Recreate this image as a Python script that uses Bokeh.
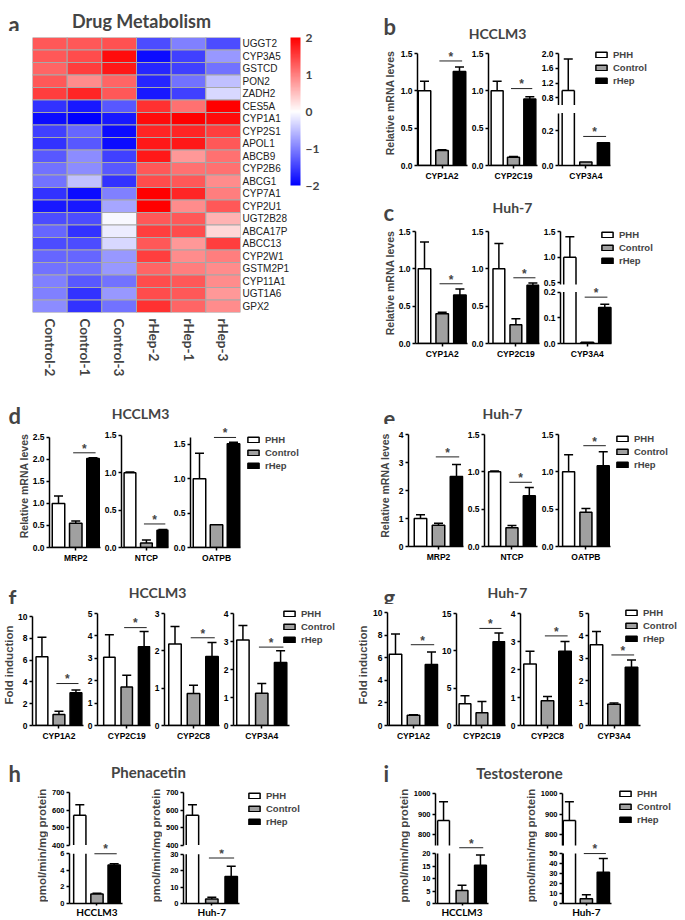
import math
from bokeh.plotting import figure
from bokeh.models import (Range1d, FactorRange, LinearColorMapper, ColorBar, FixedTicker,
                          Label, Legend, LegendItem, NumeralTickFormatter, ColumnDataSource)
from bokeh.layouts import row, column
from bokeh.embed import file_html
from bokeh.resources import INLINE

# ---------------------------------------------------------------- data
groups = ["PHH", "Control", "rHep"]

hm_samples = ["Control-2", "Control-1", "Control-3", "rHep-2", "rHep-1", "rHep-3"]
hm_genes = ["UGGT2", "CYP3A5", "GSTCD", "PON2", "ZADH2", "CES5A", "CYP1A1", "CYP2S1",
            "APOL1", "ABCB9", "CYP2B6", "ABCG1", "CYP7A1", "CYP2U1", "UGT2B28", "ABCA17P",
            "ABCC13", "CYP2W1", "GSTM2P1", "CYP11A1", "UGT1A6", "GPX2"]
hm_values = [
    [1.3, 1.3, 1.35, -1.4, -1.0, -1.4],
    [1.3, 1.4, 1.9, -1.9, -1.5, -0.8],
    [1.2, 1.5, 1.8, -1.7, -1.5, -1.1],
    [1.3, 0.9, 1.2, -1.7, -1.1, -0.5],
    [1.5, 1.7, 1.3, -1.8, -1.5, -0.3],
    [-1.6, -1.8, -1.3, 1.6, 1.1, 2.0],
    [-1.9, -2.0, -1.8, 1.9, 2.0, 1.9],
    [-1.5, -1.2, -1.9, 1.7, 1.7, 1.5],
    [-1.6, -1.3, -1.9, 1.8, 1.8, 1.3],
    [-1.3, -0.9, -1.5, 1.8, 0.8, 1.1],
    [-1.1, -0.9, -1.3, 1.3, 1.1, 1.1],
    [-1.1, -0.5, -1.6, 1.4, 1.3, 0.9],
    [-1.6, -1.9, -1.0, 2.0, 1.7, 1.0],
    [-1.8, -1.8, -0.7, 2.0, 0.9, 1.3],
    [-1.4, -1.4, -0.05, 1.3, 1.3, 0.6],
    [-1.2, -1.6, -0.15, 1.5, 1.4, 0.3],
    [-1.4, -1.4, -0.3, 1.3, 0.8, 1.5],
    [-1.2, -1.2, -0.8, 1.5, 0.9, 1.0],
    [-1.1, -1.1, -0.8, 1.2, 1.0, 0.9],
    [-1.0, -1.3, -1.1, 1.4, 1.3, 0.9],
    [-1.0, -1.6, -0.8, 1.4, 1.3, 0.8],
    [-0.9, -1.6, -1.1, 1.6, 1.2, 0.9],
]
hm_ticks = [-2, -1, 0, 1, 2]

# panel b : HCCLM3 (CYP mRNA)
b_names = ["CYP1A2", "CYP2C19", "CYP3A4"]
b_mean = [[1.00, 0.20, 1.26], [1.00, 0.11, 0.89], [1.00, 0.02, 0.13]]
b_err = [[0.13, 0.01, 0.06], [0.13, 0.01, 0.03], [0.85, 0.0, 0.0]]
b_sig = [1.40, 1.03, 0.166]
b_ymax = [1.5, 1.5, [2.0, 0.3]]
b_ticks = [[0, 0.5, 1.0, 1.5], [0, 0.5, 1.0, 1.5], [[0.8, 1.2, 1.6, 2.0], [0.0, 0.2]]]
b_fmt = ["0.0", "0.0", "0.0"]

# panel c : Huh-7 (CYP mRNA)
c_names = ["CYP1A2", "CYP2C19", "CYP3A4"]
c_mean = [[1.00, 0.40, 0.65], [1.00, 0.25, 0.78], [1.00, 0.005, 0.14]]
c_err = [[0.36, 0.02, 0.08], [0.34, 0.08, 0.03], [0.40, 0.0, 0.012]]
c_sig = [0.80, 0.88, 0.18]
c_ymax = [1.5, 1.5, [1.5, 0.2]]
c_ticks = [[0, 0.5, 1.0, 1.5], [0, 0.5, 1.0, 1.5], [[0.5, 1.0, 1.5], [0.0, 0.1, 0.2]]]
c_fmt = ["0.0", "0.0", "0.0"]

# panel d : HCCLM3 (transporters)
d_names = ["MRP2", "NTCP", "OATPB"]
d_mean = [[1.00, 0.55, 2.02], [1.00, 0.06, 0.23], [1.00, 0.33, 1.51]]
d_err = [[0.17, 0.05, 0.02], [0.01, 0.04, 0.01], [0.37, 0.0, 0.02]]
d_sig = [2.15, 0.315, 1.60]
d_ymax = [2.5, 1.5, 1.6]
d_ticks = [[0, 0.5, 1.0, 1.5, 2.0, 2.5], [0, 0.5, 1.0, 1.5], [0, 0.5, 1.0, 1.5]]
d_fmt = ["0.0", "0.0", "0.0"]

# panel e : Huh-7 (transporters)
e_names = ["MRP2", "NTCP", "OATPB"]
e_mean = [[1.00, 0.76, 2.50], [1.00, 0.25, 0.68], [1.00, 0.46, 1.08]]
e_err = [[0.13, 0.07, 0.43], [0.01, 0.03, 0.11], [0.23, 0.05, 0.19]]
e_sig = [3.20, 0.86, 1.35]
e_ymax = [4, 1.5, 1.5]
e_ticks = [[0, 1, 2, 3, 4], [0, 0.5, 1.0, 1.5], [0, 0.5, 1.0, 1.5]]
e_fmt = ["0", "0.0", "0.0"]

# panel f : HCCLM3 fold induction
f_names = ["CYP1A2", "CYP2C19", "CYP2C8", "CYP3A4"]
f_mean = [[6.3, 1.0, 3.0], [3.05, 1.72, 3.52], [2.18, 0.86, 1.85], [3.05, 1.15, 2.25]]
f_err = [[1.8, 0.3, 0.25], [1.0, 0.52, 0.68], [0.47, 0.22, 0.37], [0.52, 0.35, 0.42]]
f_sig = [3.85, 4.37, 2.35, 2.80]
f_ymax = [10, 5, 3, 4]
f_ticks = [[0, 2, 4, 6, 8, 10], [0, 1, 2, 3, 4, 5], [0, 1, 2, 3], [0, 1, 2, 3, 4]]
f_fmt = ["0", "0", "0", "0"]

# panel g : Huh-7 fold induction
g_names = ["CYP1A2", "CYP2C19", "CYP2C8", "CYP3A4"]
g_mean = [[6.3, 0.9, 5.4], [2.9, 1.7, 11.2], [2.2, 0.88, 2.65], [3.6, 0.95, 2.6]]
g_err = [[1.8, 0.05, 1.1], [1.1, 1.5, 1.2], [0.45, 0.16, 0.35], [0.6, 0.05, 0.32]]
g_sig = [7.15, 13.0, 3.20, 3.15]
g_ymax = [10, 15, 4, 5]
g_ticks = [[0, 2, 4, 6, 8, 10], [0, 5, 10, 15], [0, 1, 2, 3, 4], [0, 1, 2, 3, 4, 5]]
g_fmt = ["0", "0", "0", "0"]

# panel h : Phenacetin
h_names = ["HCCLM3", "Huh-7"]
h_mean = [[570, 1.15, 4.65], [570, 2.8, 16.5]]
h_err = [[60, 0.1, 0.15], [60, 1.0, 6.2]]
h_sig = [6.0, 27.7]
h_ymax = [[700, 6], [700, 30]]
h_ticks = [[[400, 500, 600, 700], [0, 2, 4, 6]], [[400, 500, 600, 700], [0, 10, 20, 30]]]
h_fmt = ["0", "0"]

# panel i : Testosterone
i_names = ["HCCLM3", "Huh-7"]
i_mean = [[868, 5.2, 15.3], [868, 4.8, 31.4]]
i_err = [[92, 2.1, 4.1], [92, 3.9, 13.6]]
i_sig = [22.3, 50.0]
i_ymax = [[1000, 20], [1000, 50]]
i_ticks = [[[800, 900, 1000], [0, 5, 10, 15, 20]], [[800, 900, 1000], [0, 10, 20, 30, 40, 50]]]
i_fmt = ["0", "0"]

# ---------------------------------------------------------------- style
COLORS = ["#ffffff", "#a0a0a0", "#000000"]
AX_FONT = "Liberation Sans"
T_FONT = "Lato"
LEG_ITEM_H = 12
LEG_SPACING = 1
LEG_H = 3 * LEG_ITEM_H + 2 * LEG_SPACING
STAR_DY = 4.2      # px from the bracket line up to the anchor (middle) of the star text
STAR_GLYPH = 6.5   # px from the bracket line up to the visible centre of the star


def val_fn(cal):
    pa, va, pb, vb = cal
    s = (pa - pb) / (vb - va)
    return lambda px: va + (pa - px) / s


def px_fn(cal):
    pa, va, pb, vb = cal
    s = (pa - pb) / (vb - va)
    return lambda v: pa - (v - va) * s


def style_axis(ax, size="8.5px"):
    ax.axis_line_width = 1.5
    ax.axis_line_color = "black"
    ax.major_tick_line_width = 1.5
    ax.major_tick_line_color = "black"
    ax.major_tick_in = 0
    ax.major_tick_out = 3
    ax.minor_tick_line_color = None
    ax.major_label_text_font = AX_FONT
    ax.major_label_text_font_style = "bold"
    ax.major_label_text_font_size = size
    ax.major_label_text_color = "black"
    ax.major_label_standoff = 2


def header(px0, px1, py0, py1, letter, lpos, title, tpos, tsize):
    p = figure(width=px1 - px0, height=py1 - py0, x_range=Range1d(px0, px1),
               y_range=Range1d(py1, py0), x_axis_type=None, y_axis_type=None,
               min_border=0, toolbar_location=None, output_backend="svg")
    p.outline_line_color = None
    p.grid.visible = False
    p.add_layout(Label(x=lpos[0], y=lpos[1], text=letter, text_font=T_FONT,
                       text_font_style="bold", text_font_size="22px",
                       text_align="left", text_baseline="alphabetic"))
    p.add_layout(Label(x=tpos[0], y=tpos[1], text=title, text_font=T_FONT,
                       text_font_style="bold", text_font_size=tsize,
                       text_align="center", text_baseline="middle"))
    return p


def ylab_fig(x0, x1, frame_top, baseline, py1, text, size):
    w = x1 - x0
    p = figure(width=w, height=py1 - frame_top, x_range=Range1d(0, 1), y_range=Range1d(0, 1),
               x_axis_location=None, min_border_left=w - 1, min_border_right=0,
               min_border_top=0, min_border_bottom=py1 - baseline,
               toolbar_location=None, output_backend="svg")
    p.outline_line_color = None
    p.grid.visible = False
    ax = p.yaxis[0]
    ax.ticker = FixedTicker(ticks=[])
    ax.axis_line_color = None
    ax.major_tick_out = 0
    ax.major_tick_in = 0
    ax.minor_tick_line_color = None
    ax.major_label_standoff = 0
    ax.axis_label = text
    ax.axis_label_standoff = 0
    ax.axis_label_text_font = AX_FONT
    ax.axis_label_text_font_style = "bold"
    ax.axis_label_text_font_size = size
    return p


def star(p, y):
    p.add_layout(Label(x=1.5, y=y, text="*", text_font=AX_FONT, text_font_style="bold",
                       text_font_size="12px", text_align="center", text_baseline="middle"))


def make_sub(means, errs, sig, name, ymax, ticks, fmt, g, x_start, x_end, frame_top,
             baseline, py1, is_last, ylabel=None, ylab_std=0, ylab_size="10.5px",
             legend=None, xfont=(AX_FONT, "8.5px"), tick_size="8.5px", xlab_low=False):
    fl, fr, c0, sp = g["fl"], g["fr"], g["c0"], g["sp"]
    x0 = -(c0 - fl) / sp
    x1 = x0 + (fr - fl) / sp
    frame_r = x_end if is_last else fr
    x1f = x0 + (frame_r - fl) / sp
    bw = 12.5 / sp
    segs = g["segs"]
    n = len(segs)
    if n == 1:
        ymax = [ymax]
        ticks = [ticks]
    sig_px = px_fn(segs[-1]["cal"])(sig)
    star_px = sig_px - STAR_DY
    glyph_px = sig_px - STAR_GLYPH
    figs = []
    for k, sg in enumerate(segs):
        vf = val_fn(sg["cal"])
        last = (k == n - 1)
        bb = (py1 - baseline) if last else 0
        top_px, bot_px = sg["top"], sg["bot"]
        ylo, yhi = vf(bot_px), vf(top_px)
        if abs(ylo) < 1e-9:
            ylo = 0.0
        L = vf(sg["lo_px"]) if "lo_px" in sg else 0.0
        H = ymax[k] if (n > 1 and last) else None
        p = figure(width=x_end - x_start, height=(bot_px - top_px) + bb,
                   x_range=Range1d(x0, x1f), y_range=Range1d(ylo, yhi),
                   min_border_left=fl - x_start, min_border_right=x_end - frame_r,
                   min_border_top=0, min_border_bottom=bb,
                   x_axis_location="below" if last else None,
                   toolbar_location=None, output_backend="svg")
        p.grid.visible = False
        p.outline_line_color = None
        for i in range(len(groups)):
            m = means[i]
            t = min(m, H) if H is not None else m
            if t > L:
                open_top = H is not None and m > H
                open_bot = L > 0
                if not open_top and not open_bot:
                    p.vbar(x=[i], top=[t], bottom=L, width=bw, fill_color=COLORS[i],
                           line_color="black", line_width=1.5)
                else:
                    p.vbar(x=[i], top=[t], bottom=L, width=bw, fill_color=COLORS[i],
                           line_color=None)
                    sx0 = [i - bw / 2, i + bw / 2]
                    sy0 = [L, L]
                    sx1 = [i - bw / 2, i + bw / 2]
                    sy1 = [t, t]
                    if not open_top:
                        sx0.append(i - bw / 2)
                        sy0.append(t)
                        sx1.append(i + bw / 2)
                        sy1.append(t)
                    p.segment(x0=sx0, y0=sy0, x1=sx1, y1=sy1, line_color="black", line_width=1.5)
            cap = m + errs[i]
            if errs[i] > 0 and cap > L and m < yhi and (H is None or m <= H):
                p.segment(x0=[i], y0=[max(m, L)], x1=[i], y1=[cap],
                          line_color="black", line_width=1.5)
                if cap < yhi:
                    p.scatter(x=[i], y=[cap], marker="dash", size=9,
                              line_color="black", line_width=1.5)
        if top_px <= sig_px <= bot_px:
            yv = vf(sig_px)
            p.segment(x0=[0.85], y0=[yv], x1=[2.15], y1=[yv],
                      line_color="#222222", line_width=1)
        if top_px <= glyph_px < bot_px:
            anchor = min(star_px, bot_px - 0.5)
            star(p, vf(anchor))
        yax = p.yaxis[0]
        style_axis(yax, tick_size)
        yax.ticker = FixedTicker(ticks=ticks[k])
        yax.formatter = NumeralTickFormatter(format=fmt)
        yax.bounds = (L, H if H is not None else ymax[k])
        if k == 0 and ylabel:
            yax.axis_label = ylabel
            yax.axis_label_standoff = ylab_std
            yax.axis_label_text_font = AX_FONT
            yax.axis_label_text_font_style = "bold"
            yax.axis_label_text_font_size = ylab_size
        if last:
            xax = p.xaxis[0]
            style_axis(xax)
            xax.ticker = FixedTicker(ticks=[1])
            xax.bounds = (x0, x1)
            xax.major_label_overrides = {1: name}
            xax.major_label_text_font = xfont[0]
            xax.major_label_text_font_size = xfont[1]
            if xlab_low:
                xax.major_tick_out = 2
                xax.major_label_standoff = 0
        if legend is not None and k == 0:
            proxies = [p.vbar(x=[i], top=[means[i]], bottom=0, width=bw, fill_color=COLORS[i],
                              line_color="black", line_width=1.5, visible=False)
                       for i in range(len(groups))]
            left, c1 = legend
            top = c1 - LEG_ITEM_H / 2
            leg = Legend(items=[LegendItem(label=groups[i], renderers=[proxies[i]])
                                for i in range(len(groups))],
                         location=(left - fl, bot_px - (top + LEG_H)))
            leg.padding = 0
            leg.margin = 0
            leg.spacing = LEG_SPACING
            leg.glyph_width = 14
            leg.glyph_height = 7
            leg.label_height = LEG_ITEM_H
            leg.label_standoff = 5
            leg.label_text_font = AX_FONT
            leg.label_text_font_style = "bold"
            leg.label_text_font_size = "9.5px"
            leg.border_line_color = None
            leg.background_fill_alpha = 0
            leg.inactive_fill_alpha = 0
            p.add_layout(leg)
        figs.append(p)
    return figs


def bar_panel(box, frame_top, baseline, hdr, geoms, means, errs, sigs, names, ymaxs,
              ticks, fmts, legend_pos, ylabel, ylab_std=0, ylab_size="10.5px",
              xfont=(AX_FONT, "8.5px"), tick_size="8.5px", xlab_low=False):
    px0, px1, py0, py1 = box
    hfig = header(px0, px1, py0, frame_top, *hdr)
    items = []
    x = px0
    n = len(geoms)
    for j, g in enumerate(geoms):
        own_ylab = None
        if "ylab_end" in g:
            items.append(ylab_fig(x, g["ylab_end"], frame_top, baseline, py1, ylabel, ylab_size))
            x = g["ylab_end"]
        elif j == 0:
            own_ylab = ylabel
        is_last = (j == n - 1)
        end = px1 if is_last else g["fr"] + 1
        figs = make_sub(means[j], errs[j], sigs[j], names[j], ymaxs[j], ticks[j], fmts[j],
                        g, x, end, frame_top, baseline, py1, is_last, ylabel=own_ylab,
                        ylab_std=ylab_std, ylab_size=ylab_size,
                        legend=legend_pos if is_last else None, xfont=xfont,
                        tick_size=tick_size, xlab_low=xlab_low)
        items.append(figs[0] if len(figs) == 1 else column(*figs, spacing=0))
        x = end
    return column(row(hfig, spacing=0), row(*items, spacing=0), spacing=0)


def reg(fl, fr, c0, sp, baseline, ptop, vtop, frame_top):
    return dict(fl=fl, fr=fr, c0=c0, sp=sp,
                segs=[dict(top=frame_top, bot=baseline, cal=(baseline, 0, ptop, vtop))])


# ---------------------------------------------------------------- panel a
def heat_panel():
    hdr = header(0, 370, 0, 31, "a", (8, 24), "Drug Metabolism", (141, 20), "18px")
    pal = []
    for k in range(256):
        t = k / 255
        if t < 0.5:
            u = t / 0.5
            rgb = (int(255 * u), int(255 * u), 255)
        else:
            u = (t - 0.5) / 0.5
            rgb = (255, int(255 * (1 - u)), int(255 * (1 - u)))
        pal.append("#%02x%02x%02x" % rgb)
    mapper = LinearColorMapper(palette=pal, low=-2, high=2)
    xs, ys, vs = [], [], []
    for gi, gname in enumerate(hm_genes):
        for si, s in enumerate(hm_samples):
            xs.append(s)
            ys.append(gname)
            vs.append(hm_values[gi][si])
    src = ColumnDataSource(dict(sample=xs, gene=ys, v=vs))
    p = figure(width=370, height=354, x_range=FactorRange(*hm_samples),
               y_range=FactorRange(*reversed(hm_genes)), y_axis_location="right",
               min_border_left=32, min_border_right=130, min_border_top=6,
               min_border_bottom=73, toolbar_location=None, output_backend="svg")
    p.grid.visible = False
    p.outline_line_color = None
    p.rect(x="sample", y="gene", width=1, height=1, source=src,
           fill_color={"field": "v", "transform": mapper}, line_color="#a8a8a8", line_width=1)
    ya = p.yaxis[0]
    ya.axis_line_color = None
    ya.major_tick_line_color = None
    ya.minor_tick_line_color = None
    ya.major_tick_out = 0
    ya.major_label_standoff = 2
    ya.major_label_text_font = AX_FONT
    ya.major_label_text_font_size = "10px"
    ya.major_label_text_color = "#222222"
    xa = p.xaxis[0]
    xa.axis_line_color = None
    xa.major_tick_line_color = None
    xa.minor_tick_line_color = None
    xa.major_tick_out = 0
    xa.major_label_standoff = 6
    xa.major_label_orientation = -math.pi / 2
    xa.major_label_text_font = T_FONT
    xa.major_label_text_font_style = "bold"
    xa.major_label_text_font_size = "13.5px"
    cb = ColorBar(color_mapper=mapper, ticker=FixedTicker(ticks=hm_ticks), width=10,
                  height=148, location=(258, 127), padding=0, margin=0,
                  major_tick_line_color=None, minor_tick_line_color=None,
                  bar_line_color=None, border_line_color=None,
                  background_fill_alpha=0, label_standoff=5,
                  major_label_text_font=T_FONT, major_label_text_font_style="bold",
                  major_label_text_font_size="12px")
    p.add_layout(cb)
    return column(row(hdr, spacing=0), p, spacing=0)


# ---------------------------------------------------------------- geometry (page px)
b_geo = [
    reg(417, 467, 424, 17.5, 165, 53, 1.5, 40),
    reg(486, 537, 495, 17, 165, 53, 1.5, 40),
    dict(fl=555, fr=608, c0=565, sp=18, segs=[
        dict(top=40, bot=105, lo_px=105, cal=(97.3, 0.8, 53, 2.0)),
        dict(top=105, bot=165, cal=(165, 0, 130, 0.2))]),
]
c_geo = [
    reg(415, 467, 424, 17.7, 343, 231, 1.5, 222),
    reg(485, 539, 496, 18, 343, 231, 1.5, 222),
    dict(fl=558, fr=610, c0=567.5, sp=17.75, segs=[
        dict(top=222, bot=287, lo_px=284, cal=(282.3, 0.5, 231, 1.5)),
        dict(top=287, bot=343, cal=(343, 0, 291.5, 0.2))]),
]
d_geo = [
    reg(49, 100, 58, 17.25, 548, 437, 2.5, 424),
    reg(118, 168, 127, 17.5, 548, 435, 1.5, 424),
    reg(190, 240, 199, 17, 548, 444, 1.5, 424),
]
e_geo = [
    reg(408, 463, 420, 18, 546, 434, 4, 424),
    reg(482, 537, 492.5, 18, 546, 434, 1.5, 424),
    reg(553, 607, 563.5, 18, 546, 434, 1.5, 424),
]
f_geo = [
    reg(29, 83, 39, 18, 725, 616, 10, 604),
    reg(92, 150, 105, 19, 725, 613, 5, 604),
    reg(164, 219, 174.5, 18.5, 725, 613, 3, 604),
    reg(232, 288, 241.5, 19, 725, 613, 4, 604),
]
g_geo = [
    reg(387, 438, 395, 18, 725, 612, 10, 604),
    reg(453, 505, 462, 18, 725, 613, 15, 604),
    reg(520, 572, 529.5, 17.5, 725, 613, 4, 604),
    reg(588, 640, 596, 17.5, 725, 613, 5, 604),
]
h_geo = [
    dict(ylab_end=48, fl=68, fr=122, c0=78.5, sp=17.5, segs=[
        dict(top=784, bot=849, lo_px=844.6, cal=(844.6, 400, 792, 700)),
        dict(top=849, bot=906, cal=(906, 0, 853.5, 6))]),
    dict(ylab_end=162, fl=182, fr=238, c0=191, sp=19.5, segs=[
        dict(top=784, bot=849, lo_px=844.6, cal=(844.6, 400, 792, 700)),
        dict(top=849, bot=906, cal=(906, 0, 854, 30))]),
]
i_geo = [
    dict(ylab_end=410, fl=432, fr=488, c0=440.5, sp=19.5, segs=[
        dict(top=784, bot=849, lo_px=845, cal=(834, 800, 793, 1000)),
        dict(top=849, bot=906, cal=(906, 0, 853.3, 20))]),
    dict(ylab_end=537, fl=560, fr=610, c0=567, sp=17.25, segs=[
        dict(top=784, bot=849, lo_px=845, cal=(834, 800, 793, 1000)),
        dict(top=849, bot=906, cal=(906, 0, 853.3, 50))]),
]

MRNA = "Relative mRNA leves"
FOLD = "Fold induction"
PMOL = "pmol/min/mg protein"

pa = heat_panel()
pb = bar_panel((370, 685, 0, 188), 40, 165, ("b", (383, 26), "HCCLM3", (497, 33), "14px"),
               b_geo, b_mean, b_err, b_sig, b_names, b_ymax, b_ticks, b_fmt,
               (591, 54), MRNA, ylab_std=2)
pc = bar_panel((370, 685, 188, 385), 222, 343, ("c", (383, 212), "Huh-7", (512, 207), "14px"),
               c_geo, c_mean, c_err, c_sig, c_names, c_ymax, c_ticks, c_fmt,
               (598, 234), MRNA, ylab_std=0)
pd_ = bar_panel((0, 370, 385, 565), 424, 548, ("d", (8, 415), "HCCLM3", (140, 413), "14px"),
                d_geo, d_mean, d_err, d_sig, d_names, d_ymax, d_ticks, d_fmt,
                (246, 440), MRNA, ylab_std=0)
pe = bar_panel((370, 685, 385, 565), 424, 546, ("e", (383, 418), "Huh-7", (502, 413), "14px"),
               e_geo, e_mean, e_err, e_sig, e_names, e_ymax, e_ticks, e_fmt,
               (610, 438), MRNA, ylab_std=5)
pf = bar_panel((0, 350, 565, 745), 604, 725, ("f", (8, 598), "HCCLM3", (157, 592), "14px"),
               f_geo, f_mean, f_err, f_sig, f_names, f_ymax, f_ticks, f_fmt,
               (281, 613), FOLD, ylab_std=0, ylab_size="11.5px")
pg = bar_panel((350, 685, 565, 745), 604, 725, ("g", (383, 597), "Huh-7", (507, 592), "14px"),
               g_geo, g_mean, g_err, g_sig, g_names, g_ymax, g_ticks, g_fmt,
               (624, 612), FOLD, ylab_std=1, ylab_size="11.5px")
ph = bar_panel((0, 345, 745, 920), 784, 906, ("h", (8, 773), "Phenacetin", (148, 771), "15px"),
               h_geo, h_mean, h_err, h_sig, h_names, h_ymax, h_ticks, h_fmt,
               (246, 795), PMOL, ylab_size="11.5px", xfont=(T_FONT, "10px"),
               tick_size="7.5px", xlab_low=True)
pi_ = bar_panel((345, 685, 745, 920), 784, 906, ("i", (383, 773), "Testosterone", (519, 772), "15px"),
                i_geo, i_mean, i_err, i_sig, i_names, i_ymax, i_ticks, i_fmt,
                (616, 793), PMOL, ylab_size="11.5px", xfont=(T_FONT, "10px"),
                tick_size="7.5px", xlab_low=True)

root = column(
    row(pa, column(pb, pc, spacing=0), spacing=0),
    row(pd_, pe, spacing=0),
    row(pf, pg, spacing=0),
    row(ph, pi_, spacing=0),
    spacing=0,
)

open("out.html", "w").write(file_html(root, INLINE))
